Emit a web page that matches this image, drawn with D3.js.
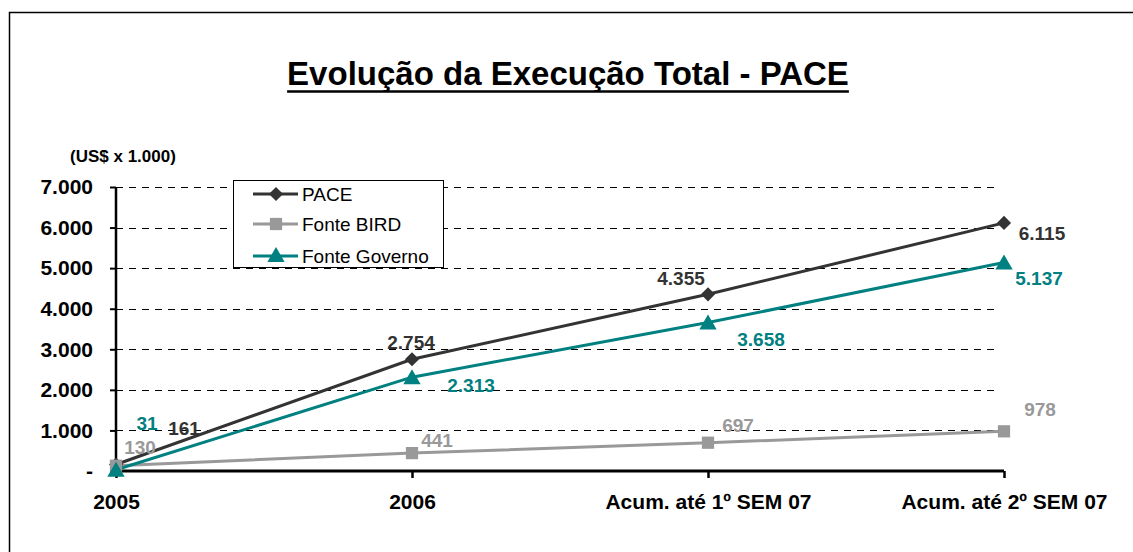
<!DOCTYPE html>
<html>
<head>
<meta charset="utf-8">
<script src="https://cdn.jsdelivr.net/npm/d3@7"></script>
<style>
  html, body { margin: 0; padding: 0; background: #fff; overflow: hidden; }
  svg { display: block; }
  text { font-family: "Liberation Sans", Arial, sans-serif; }
</style>
</head>
<body>
<svg id="chart" width="1133" height="552"></svg>
<script>
// ---- data ----
const categories = ["2005", "2006", "Acum. até 1º SEM 07", "Acum. até 2º SEM 07"];
const seriesNames = ["PACE", "Fonte BIRD", "Fonte Governo"];
const paceValues = [161, 2754, 4355, 6115];
const birdValues = [130, 441, 697, 978];
const governoValues = [31, 2313, 3658, 5137];
const yTicks = [0, 1000, 2000, 3000, 4000, 5000, 6000, 7000];
const yTickLabels = ["-", "1.000", "2.000", "3.000", "4.000", "5.000", "6.000", "7.000"];
const titleText = "Evolução da Execução Total - PACE";
const unitText = "(US$ x 1.000)";

// ---- layout / style (not data) ----
const colors = { "PACE": "#333333", "Fonte BIRD": "#999999", "Fonte Governo": "#008080" };
const markers = { "PACE": d3.symbolSquare, "Fonte BIRD": d3.symbolSquare, "Fonte Governo": d3.symbolTriangle };
const markerSizes = { "PACE": 100, "Fonte BIRD": 150, "Fonte Governo": 130 };
const markerRotate = { "PACE": 45, "Fonte BIRD": 0, "Fonte Governo": 0 };
const markerDy = { "PACE": 0, "Fonte BIRD": 0, "Fonte Governo": 2 };
// label offsets (dx, dy of label centre from point), one per category
const labelOffsets = {
  "PACE": [[68, -36], [-1, -17], [-27, -16], [38, 10]],
  "Fonte BIRD": [[24, -19], [25, -13], [30, -18], [36, -22]],
  "Fonte Governo": [[31, -47], [59, 8], [53, 17], [35, 16]]
};

const seriesData = [
  { name: "PACE", values: paceValues },
  { name: "Fonte BIRD", values: birdValues },
  { name: "Fonte Governo", values: governoValues }
];

const svg = d3.select("#chart");

// outer border (top and left edges visible)
svg.append("path").attr("d", "M9.5,560V12.5H1140")
  .attr("fill", "none").attr("stroke", "#000").attr("stroke-width", 1.5);

// title
const title = svg.append("text").attr("x", 568).attr("y", 85).attr("text-anchor", "middle")
  .attr("font-size", 33).attr("font-weight", "bold").attr("fill", "#000").text(titleText);
const tb = title.node().getBBox();
svg.append("line").attr("x1", tb.x).attr("x2", tb.x + tb.width).attr("y1", 91.5).attr("y2", 91.5)
  .attr("stroke", "#000").attr("stroke-width", 2.5);

// unit
svg.append("text").attr("x", 70).attr("y", 162).attr("font-size", 17).attr("font-weight", "bold")
  .attr("fill", "#000").text(unitText);

// scales
const x = d3.scalePoint().domain(categories).range([116, 1004]);
const y = d3.scaleLinear().domain([0, 7000]).range([471, 187]);

// gridlines
svg.append("g").selectAll("line").data(yTicks.filter(d => d > 0)).join("line")
  .attr("x1", 116).attr("x2", 1000)
  .attr("y1", d => Math.round(y(d)) + 0.5).attr("y2", d => Math.round(y(d)) + 0.5)
  .attr("stroke", "#000").attr("stroke-width", 1).attr("stroke-dasharray", "7,6");

// y axis
const yAxis = d3.axisLeft(y).tickValues(yTicks).tickSize(6).tickPadding(17)
  .tickFormat((d, i) => yTickLabels[i]);
const gy = svg.append("g").attr("transform", "translate(116,0)").call(yAxis);
gy.select(".domain").attr("stroke", "#000").attr("stroke-width", 2.5).attr("d", `M0,${y(7000)}V${y(0)}`);
gy.selectAll(".tick line").attr("stroke", "#000").attr("stroke-width", 2);
gy.selectAll(".tick text").attr("font-size", 21).attr("font-weight", "bold").attr("fill", "#000")
  .attr("font-family", "Liberation Sans, Arial, sans-serif");

// x axis
const xAxis = d3.axisBottom(x).tickSize(7).tickPadding(16);
const gx = svg.append("g").attr("transform", `translate(0,${y(0)})`).call(xAxis);
gx.select(".domain").attr("stroke", "#000").attr("stroke-width", 3).attr("d", `M116,0H1004`);
gx.selectAll(".tick line").attr("stroke", "#000").attr("stroke-width", 2.5);
gx.selectAll(".tick text").attr("font-size", 21).attr("font-weight", "bold").attr("fill", "#000")
  .attr("font-family", "Liberation Sans, Arial, sans-serif");

// lines
const line = d3.line().x((d, i) => x(categories[i])).y(d => y(d));
seriesData.forEach(s => {
  svg.append("path").datum(s.values).attr("d", line)
    .attr("fill", "none").attr("stroke", colors[s.name]).attr("stroke-width", 3);
});
// markers
seriesData.forEach(s => {
  svg.append("g").selectAll("path").data(s.values).join("path")
    .attr("d", d3.symbol().type(markers[s.name]).size(markerSizes[s.name]))
    .attr("transform", (d, i) => `translate(${x(categories[i])},${y(d) + markerDy[s.name]}) rotate(${markerRotate[s.name]})`)
    .attr("fill", colors[s.name]);
});
// data labels
const fmt = v => d3.format(",")(v).replace(/,/g, ".");
seriesData.forEach(s => {
  svg.append("g").selectAll("text").data(s.values).join("text")
    .attr("x", (d, i) => x(categories[i]) + labelOffsets[s.name][i][0])
    .attr("y", (d, i) => y(d) + labelOffsets[s.name][i][1])
    .attr("dy", "0.36em").attr("text-anchor", "middle")
    .attr("font-size", 19).attr("font-weight", "bold").attr("fill", colors[s.name])
    .text(d => fmt(d));
});

// legend
const lg = svg.append("g");
lg.append("rect").attr("x", 233.5).attr("y", 180.5).attr("width", 210).attr("height", 87)
  .attr("fill", "#fff").attr("stroke", "#000").attr("stroke-width", 1);
const legendY = [194, 224, 256];
seriesNames.forEach((n, i) => {
  lg.append("line").attr("x1", 253).attr("x2", 298).attr("y1", legendY[i]).attr("y2", legendY[i])
    .attr("stroke", colors[n]).attr("stroke-width", 3);
  lg.append("path").attr("d", d3.symbol().type(markers[n]).size(markerSizes[n])())
    .attr("transform", `translate(276,${legendY[i] + (n === "Fonte Governo" ? 1 : 0)}) rotate(${markerRotate[n]})`)
    .attr("fill", colors[n]);
  lg.append("text").attr("x", 302).attr("y", legendY[i]).attr("dy", "0.36em")
    .attr("font-size", 19).attr("fill", "#000").text(n);
});
</script>
</body>
</html>
